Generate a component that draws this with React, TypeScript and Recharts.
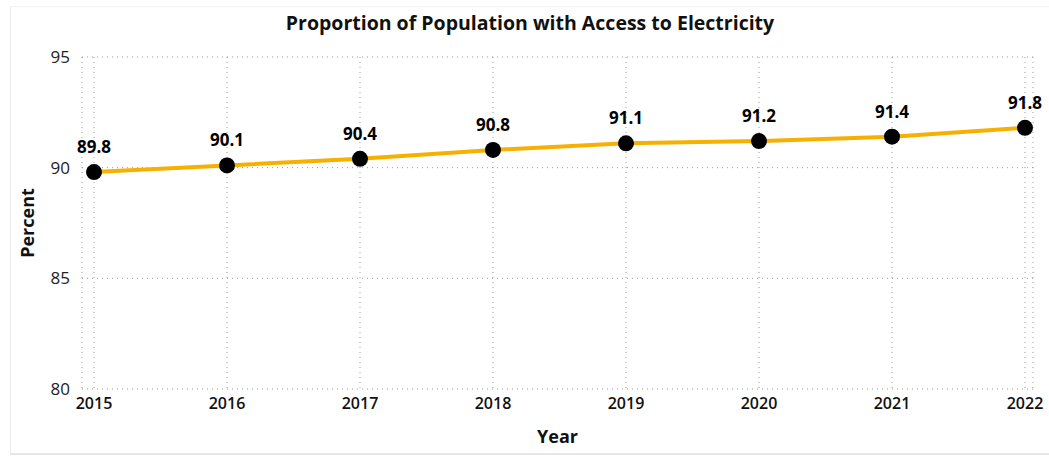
import { LineChart, Line, XAxis, YAxis, CartesianGrid, LabelList } from 'recharts';

const years = ['2015', '2016', '2017', '2018', '2019', '2020', '2021', '2022'];
const access = [89.8, 90.1, 90.4, 90.8, 91.1, 91.2, 91.4, 91.8];
const yTicks = [80, 85, 90, 95];

const data = years.map((year, i) => ({ year, value: access[i] }));

const FONT = '"Open Sans", "Noto Sans", sans-serif';

export default function App() {
  return (
    <div style={{ position: 'absolute', left: 0, top: 0, width: 1049, height: 456, background: '#fff', fontFamily: FONT }}>
      <div
        style={{
          position: 'absolute',
          left: 10,
          top: 6,
          width: 1045,
          height: 446,
          borderLeft: '1px solid #ececec',
          borderBottom: '2px solid #e6e6e6',
          borderTop: '1px solid #f3f3f3',
        }}
      />
      <div
        style={{
          position: 'absolute',
          left: 0,
          width: 1060,
          top: 9,
          textAlign: 'center',
          fontSize: 19.5,
          fontWeight: 700,
          color: '#111',
        }}
      >
        Proportion of Population with Access to Electricity
      </div>
      <div style={{ position: 'absolute', left: 0, top: 0 }}>
        <LineChart width={1049} height={456} data={data} margin={{ top: 57, right: 16, bottom: 27, left: 10 }}>
          <CartesianGrid stroke="#999" strokeDasharray="1 4" />
          <XAxis
            dataKey="year"
            axisLine={false}
            tickLine={false}
            tickSize={0}
            tickMargin={9}
            height={40}
            padding={{ left: 12, right: 8 }}
            tick={{ fontSize: 16, fontWeight: 600, fill: '#111', fontFamily: FONT }}
            label={{ value: 'Year', position: 'insideBottom', offset: -14, fontSize: 18, fontWeight: 700, fill: '#111', fontFamily: FONT }}
          />
          <YAxis
            domain={[80, 95]}
            ticks={yTicks}
            width={72}
            axisLine={false}
            tickLine={false}
            tickSize={0}
            tickMargin={12}
            tick={{ fontSize: 17, fill: '#222', fontFamily: FONT }}
            label={{ value: 'Percent', angle: -90, position: 'insideLeft', offset: 18, fontSize: 18, fontWeight: 700, fill: '#111', fontFamily: FONT, style: { textAnchor: 'middle' } }}
          />
          <Line
            type="linear"
            dataKey="value"
            stroke="#F5B000"
            strokeWidth={4}
            dot={{ r: 8, fill: '#000', stroke: '#000', strokeWidth: 0 }}
            isAnimationActive={false}
          >
            <LabelList dataKey="value" position="top" offset={19} style={{ fontSize: 17, fontWeight: 700, fill: '#000', fontFamily: FONT }} />
          </Line>
        </LineChart>
      </div>
    </div>
  );
}
